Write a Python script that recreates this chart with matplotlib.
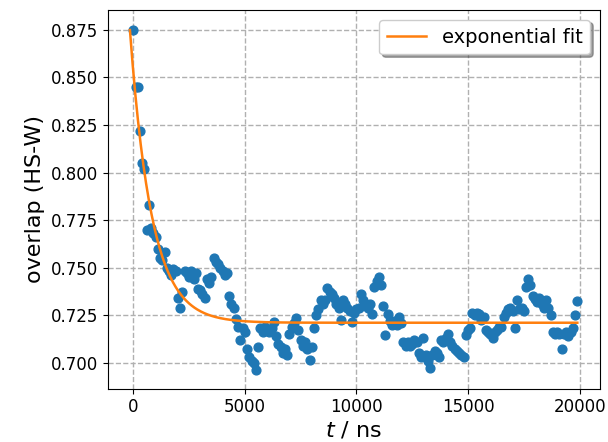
import numpy as np
import matplotlib
matplotlib.use("Agg")
import matplotlib.pyplot as plt

# sampling interval of the trajectory (ns)
dt_ns = 100

# overlap with the HS-W state, one value per frame
overlap = [
    0.875, 0.845, 0.845, 0.822, 0.805, 0.802, 0.770, 0.783, 0.771, 0.768, 0.766,
    0.760, 0.755, 0.754, 0.758, 0.750, 0.748, 0.746, 0.749, 0.748, 0.734,
    0.729, 0.737, 0.748, 0.747, 0.745, 0.748, 0.744, 0.747, 0.739, 0.738,
    0.736, 0.734, 0.744, 0.742, 0.745, 0.755, 0.753, 0.752, 0.750, 0.748,
    0.746, 0.747, 0.735, 0.731, 0.729, 0.723, 0.719, 0.712, 0.718, 0.716,
    0.707, 0.703, 0.701, 0.700, 0.696, 0.708, 0.718, 0.716, 0.719, 0.717,
    0.716, 0.718, 0.7215, 0.714, 0.710, 0.708, 0.705, 0.707, 0.704, 0.715,
    0.719, 0.721, 0.7235, 0.717, 0.712, 0.709, 0.711, 0.707, 0.7015, 0.708,
    0.718, 0.725, 0.728, 0.733, 0.731, 0.733, 0.7395, 0.737, 0.736, 0.734,
    0.731, 0.729, 0.7225, 0.733, 0.731, 0.729, 0.727, 0.7215, 0.726, 0.728,
    0.729, 0.736, 0.733, 0.731, 0.729, 0.731, 0.7255, 0.740, 0.743, 0.745,
    0.741, 0.730, 0.7145, 0.7255, 0.722, 0.720, 0.722, 0.720, 0.724, 0.721,
    0.711, 0.709, 0.711, 0.709, 0.710, 0.712, 0.711, 0.705, 0.703, 0.713,
    0.704, 0.701, 0.697, 0.704, 0.706, 0.705, 0.703, 0.712, 0.711, 0.713,
    0.715, 0.711, 0.709, 0.707, 0.706, 0.705, 0.704, 0.703, 0.7145, 0.717,
    0.718, 0.726, 0.725, 0.726, 0.7255, 0.7225, 0.724, 0.717, 0.716, 0.715,
    0.713, 0.716, 0.717, 0.719, 0.719, 0.724, 0.726, 0.728, 0.729, 0.727,
    0.718, 0.733, 0.728, 0.729, 0.727, 0.740, 0.744, 0.741, 0.735, 0.7335,
    0.732, 0.734, 0.731, 0.729, 0.733, 0.729, 0.725, 0.716, 0.715, 0.716,
    0.715, 0.707, 0.715, 0.716, 0.714, 0.716, 0.718, 0.725, 0.7325,
]

# exponential fit parameters: y = plateau + amp * exp(-t / tau)
fit_plateau = 0.721
fit_amp = 0.132
fit_tau = 975.0
fit_t_start = -150.0


def main():
    t = np.arange(len(overlap)) * dt_ns
    t_fit = np.linspace(fit_t_start, t[-1], 500)
    y_fit = fit_plateau + fit_amp * np.exp(-t_fit / fit_tau)

    fig = plt.figure(figsize=(6.08, 4.42), dpi=100)
    ax = fig.add_axes([0.177, 0.121, 0.810, 0.856])

    ax.scatter(t, overlap, s=40, color="tab:blue", zorder=2)
    ax.plot(t_fit, y_fit, color="tab:orange", lw=1.8, label="exponential fit", zorder=3)

    ax.set_xlim(-1150, 20920)
    ax.set_ylim(0.6864, 0.8854)
    ax.set_xticks([0, 5000, 10000, 15000, 20000])
    ax.set_yticks(np.arange(0.700, 0.876, 0.025))
    ax.yaxis.set_major_formatter(matplotlib.ticker.FormatStrFormatter("%.3f"))
    ax.tick_params(labelsize=12)

    ax.grid(True, linestyle="--", color="#b0b0b0", lw=1.0, zorder=0)
    ax.set_axisbelow(True)

    ax.set_xlabel(r"$t$ / ns", fontsize=16, labelpad=2)
    ax.set_ylabel("overlap (HS-W)", fontsize=16)
    ax.legend(loc="upper right", fontsize=14, shadow=True, fancybox=True)

    fig.savefig("out.png", dpi=100)


if __name__ == "__main__":
    main()
